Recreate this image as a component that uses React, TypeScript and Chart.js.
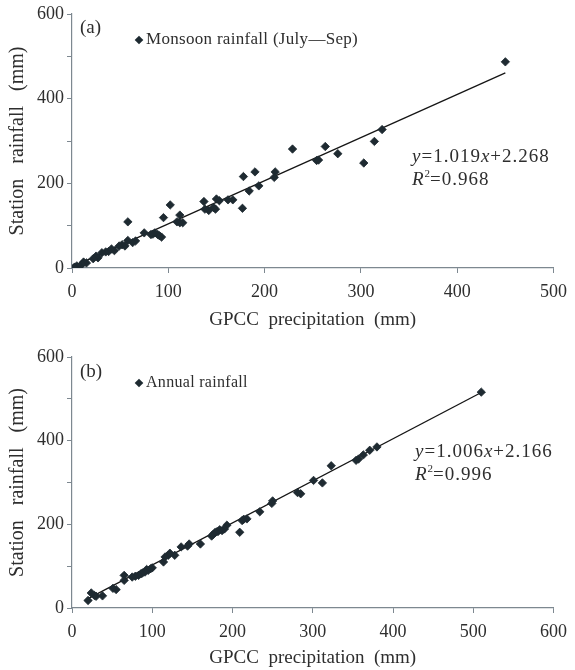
import React, { useEffect, useRef } from 'react';
import { Chart, registerables } from 'chart.js';

Chart.register(...registerables);

// ---------- (a) Monsoon rainfall (July–Sep) ----------
const monsoonGpcc = [
  450, 322, 314, 303, 276, 263, 254, 256, 229, 211,
  210, 194, 190, 184, 178, 177, 167, 162, 153, 150,
  149, 147, 142, 138, 137, 115, 112, 112, 109, 102,
  95, 93, 91, 89, 86, 84, 82, 75, 66, 63,
  58, 58, 55, 52, 49, 44, 41, 38, 35, 31,
  27, 25, 22, 15, 12, 10, 8, 5, 3, 2,
];
const monsoonStation = [
  487, 327, 299, 248, 270, 287, 254, 255, 281, 227,
  214, 194, 227, 182, 216, 141, 161, 161, 159, 163,
  139, 143, 136, 139, 157, 107, 125, 107, 109, 149,
  119, 73, 76, 79, 83, 80, 79, 83, 64, 60,
  109, 65, 52, 55, 52, 41, 45, 39, 38, 36,
  24, 28, 22, 12, 14, 8, 4, 5, 2, 1,
];
const monsoonFitX = [2, 450];
const monsoonSlope = 1.019;
const monsoonIntercept = 2.268;
const monsoonR2 = '0.968';

// ---------- (b) Annual rainfall ----------
const annualGpcc = [
  510, 380, 371, 363, 357, 354, 323, 312, 301, 285,
  281, 250, 249, 234, 218, 214, 212, 209, 193, 190,
  187, 184, 182, 180, 178, 176, 174, 160, 146, 144,
  136, 128, 122, 120, 116, 114, 100, 98, 95, 93,
  91, 88, 86, 83, 79, 75, 65, 65, 55, 51,
  38, 30, 28, 24, 20,
];
const annualStation = [
  516, 385, 377, 366, 356, 353, 340, 299, 305, 273,
  276, 256, 250, 230, 213, 212, 209, 181, 198, 189,
  185, 187, 183, 182, 180, 176, 172, 153, 153, 148,
  146, 126, 131, 126, 122, 110, 96, 94, 90, 92,
  86, 84, 82, 78, 76, 74, 78, 66, 44, 47,
  29, 28, 30, 36, 18,
];
const annualFitX = [20, 510];
const annualSlope = 1.006;
const annualIntercept = 2.166;
const annualR2 = '0.996';

// ---------- ticks ----------
const xTicksA = [0, 100, 200, 300, 400, 500];
const xTicksB = [0, 100, 200, 300, 400, 500, 600];
const yTicks = [0, 100, 200, 300, 400, 500, 600];
const yTickLabels = ['0', '', '200', '', '400', '', '600'];

const FONT = '"Liberation Serif", "Times New Roman", serif';
const AXIS = '#7d8890';
const TEXT = '#2e2e2e';
const MARK = '#1e2a31';

type Part = { t: string; it?: boolean; sup?: boolean };

function drawRich(ctx: CanvasRenderingContext2D, parts: Part[], x: number, y: number, size: number, spacing: number) {
  let cx = x;
  for (const p of parts) {
    const fs = p.sup ? Math.round(size * 0.58) : size;
    ctx.font = `${p.it ? 'italic ' : ''}${fs}px ${FONT}`;
    (ctx as any).letterSpacing = (p.sup ? 0 : spacing) + 'px';
    const dy = p.sup ? -size * 0.3 : 0;
    ctx.fillText(p.t, cx, y + dy);
    cx += ctx.measureText(p.t).width;
  }
}

interface PanelSpec {
  tag: string;
  legend: string;
  legendSize: number;
  slope: number;
  intercept: number;
  r2: string;
  tagPos: [number, number];
  legendPos: [number, number];
  eqPos: [number, number];
}

function makeAnnot(spec: PanelSpec) {
  return {
    id: 'annot_' + spec.tag,
    afterDraw(chart: any) {
      const ctx: CanvasRenderingContext2D = chart.ctx;
      ctx.save();
      ctx.fillStyle = TEXT;
      ctx.textBaseline = 'middle';
      ctx.textAlign = 'left';
      // panel tag
      ctx.font = `19px ${FONT}`;
      ctx.fillText(spec.tag, spec.tagPos[0], spec.tagPos[1]);
      // legend marker
      const [lx, ly] = spec.legendPos;
      ctx.fillStyle = MARK;
      ctx.beginPath();
      const r = 4.3;
      ctx.moveTo(lx - r, ly);
      ctx.lineTo(lx, ly - r);
      ctx.lineTo(lx + r, ly);
      ctx.lineTo(lx, ly + r);
      ctx.closePath();
      ctx.fill();
      ctx.fillStyle = TEXT;
      drawRich(ctx, [{ t: spec.legend }], lx + 7, ly, spec.legendSize, 0.3);
      // equation
      const [ex, ey] = spec.eqPos;
      const sign = spec.intercept >= 0 ? '+' : '−';
      drawRich(
        ctx,
        [
          { t: 'y', it: true },
          { t: '=' + spec.slope.toFixed(3) },
          { t: 'x', it: true },
          { t: sign + Math.abs(spec.intercept).toFixed(3) },
        ],
        ex,
        ey,
        19,
        1
      );
      drawRich(ctx, [{ t: 'R', it: true }, { t: '2', sup: true }, { t: '=' + spec.r2 }], ex, ey + 23, 19, 1);
      ctx.restore();
    },
  };
}

function buildConfig(
  gx: number[],
  gy: number[],
  fitX: number[],
  slope: number,
  intercept: number,
  xTicks: number[],
  padTop: number,
  xAxisHeight: number,
  xTitlePadBottom: number,
  spec: PanelSpec
): any {
  const pts = gx.map((v, i) => ({ x: v, y: gy[i] }));
  const fit = fitX.map((v) => ({ x: v, y: slope * v + intercept }));
  const xMax = xTicks[xTicks.length - 1];
  return {
    type: 'scatter',
    data: {
      datasets: [
        {
          label: spec.legend,
          data: pts,
          pointStyle: 'rectRot',
          pointRadius: 4.2,
          pointBackgroundColor: MARK,
          pointBorderColor: MARK,
          pointBorderWidth: 0.8,
          order: 1,
        },
        {
          type: 'line',
          label: 'fit',
          data: fit,
          borderColor: '#151515',
          borderWidth: 1.3,
          pointRadius: 0,
          fill: false,
          order: 2,
        },
      ],
    },
    options: {
      responsive: false,
      animation: false,
      layout: { padding: { top: padTop, right: 12, left: 0, bottom: 0 } },
      plugins: { legend: { display: false }, tooltip: { enabled: false } },
      scales: {
        x: {
          type: 'linear',
          min: 0,
          max: xMax,
          afterBuildTicks: (s: any) => {
            s.ticks = xTicks.map((v) => ({ value: v }));
          },
          afterFit: (s: any) => {
            s.height = xAxisHeight;
          },
          ticks: {
            color: TEXT,
            font: { family: FONT, size: 18 },
            padding: 8,
            maxRotation: 0,
            callback: (v: any) => String(v),
          },
          grid: { drawOnChartArea: false, drawTicks: true, tickLength: 5, color: AXIS, lineWidth: 1 },
          border: { display: true, color: AXIS, width: 1.2 },
          title: {
            display: true,
            text: 'GPCC  precipitation  (mm)',
            color: TEXT,
            font: { family: FONT, size: 19 },
            padding: { top: 0, bottom: xTitlePadBottom },
          },
        },
        y: {
          type: 'linear',
          min: 0,
          max: 600,
          afterBuildTicks: (s: any) => {
            s.ticks = yTicks.map((v) => ({ value: v }));
          },
          afterFit: (s: any) => {
            s.width = 72;
          },
          ticks: {
            color: TEXT,
            font: { family: FONT, size: 18 },
            padding: 3,
            callback: (_v: any, i: number) => yTickLabels[i],
          },
          grid: { drawOnChartArea: false, drawTicks: true, tickLength: 5, color: AXIS, lineWidth: 1 },
          border: { display: true, color: AXIS, width: 1.2 },
          title: {
            display: true,
            text: 'Station   rainfall   (mm)',
            color: TEXT,
            font: { family: FONT, size: 20 },
            padding: { top: 6, bottom: 0 },
          },
        },
      },
    },
    plugins: [makeAnnot(spec)],
  };
}

function Panel({ config }: { config: () => any }) {
  const ref = useRef<HTMLCanvasElement | null>(null);
  useEffect(() => {
    if (!ref.current) return;
    const chart = new Chart(ref.current, config());
    return () => chart.destroy();
  }, []);
  return <canvas ref={ref} width={575} height={335} style={{ display: 'block', width: 575, height: 335 }} />;
}

export default function App() {
  const cfgA = () =>
    buildConfig(monsoonGpcc, monsoonStation, monsoonFitX, monsoonSlope, monsoonIntercept, xTicksA, 14, 67, 4, {
      tag: '(a)',
      legend: 'Monsoon rainfall (July—Sep)',
      legendSize: 17,
      slope: monsoonSlope,
      intercept: monsoonIntercept,
      r2: monsoonR2,
      tagPos: [80, 28],
      legendPos: [139, 40],
      eqPos: [412, 157],
    });
  const cfgB = () =>
    buildConfig(annualGpcc, annualStation, annualFitX, annualSlope, annualIntercept, xTicksB, 22, 62, 1, {
      tag: '(b)',
      legend: 'Annual rainfall',
      legendSize: 16,
      slope: annualSlope,
      intercept: annualIntercept,
      r2: annualR2,
      tagPos: [80, 37],
      legendPos: [139, 48],
      eqPos: [415, 117],
    });
  return (
    <div style={{ position: 'absolute', left: 0, top: 0, width: 575, height: 670, background: '#fff' }}>
      <Panel config={cfgA} />
      <Panel config={cfgB} />
    </div>
  );
}
